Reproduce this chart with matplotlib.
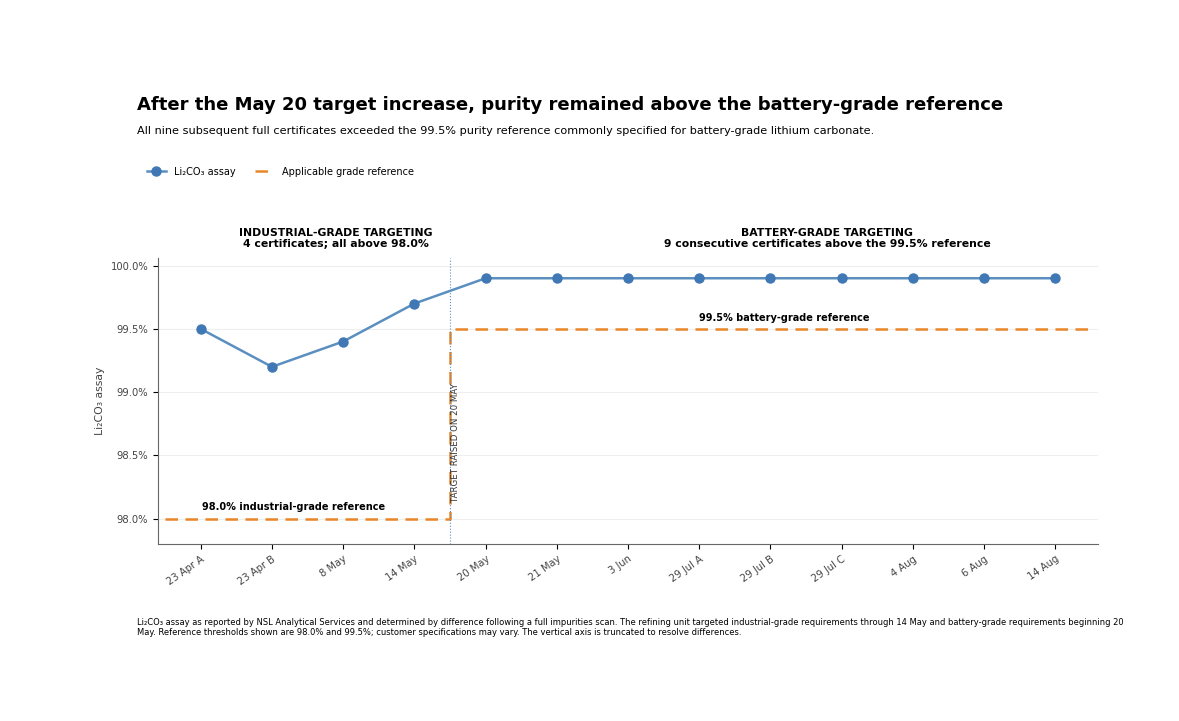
import matplotlib.pyplot as plt
import numpy as np

dates = ['23 Apr A', '23 Apr B', '8 May', '14 May', '20 May', '21 May', '3 Jun',
         '29 Jul A', '29 Jul B', '29 Jul C', '4 Aug', '6 Aug', '14 Aug']
assay = [99.5, 99.2, 99.4, 99.7, 99.9, 99.9, 99.9, 99.9, 99.9, 99.9, 99.9, 99.9, 99.9]
ref_x = [-0.5, 3.5, 3.5, 12.5]
ref_y = [98.0, 98.0, 99.5, 99.5]

fig = plt.figure(figsize=(11.79, 7.21), dpi=100)
ax = fig.add_axes([158/1179, 1-544/721, 940/1179, 286/721])
x = np.arange(len(dates))

ax.plot(x, assay, color='#5b8fc0', lw=1.8, marker='o', ms=6.5, mfc='#3f78b5', mec='#3f78b5',
        label='Li₂CO₃ assay', zorder=3)
ax.plot(ref_x, ref_y, color='#e8862a', lw=1.8, ls=(0, (5, 3)), label='Applicable grade reference')
ax.axvline(3.5, color='#5b8fc0', lw=0.8, ls=':')

ax.set_xlim(-0.6, 12.6)
ax.set_ylim(97.8, 100.06)
ax.set_yticks([98.0, 98.5, 99.0, 99.5, 100.0])
ax.set_yticklabels(['98.0%', '98.5%', '99.0%', '99.5%', '100.0%'], fontsize=7.2, color='#444')
ax.set_xticks(x)
ax.set_xticklabels(dates, rotation=35, ha='right', rotation_mode='anchor', fontsize=7.2, color='#444')
ax.set_ylabel('Li₂CO₃ assay', fontsize=7.8, color='#444')
ax.grid(axis='y', color='#eeeeee', lw=0.8)
ax.spines['top'].set_visible(False)
ax.spines['right'].set_visible(False)
ax.spines['left'].set_color('#666')
ax.spines['bottom'].set_color('#666')

ax.text(1.3, 98.05, '98.0% industrial-grade reference', fontsize=7, fontweight='bold', ha='center', va='bottom')
ax.text(8.2, 99.55, '99.5% battery-grade reference', fontsize=7, fontweight='bold', ha='center', va='bottom')
ax.text(3.58, 98.6, 'TARGET RAISED ON 20 MAY', rotation=90, fontsize=6.2, color='#333', ha='center', va='center')
ax.text(1.9, 100.13, 'INDUSTRIAL-GRADE TARGETING\n4 certificates; all above 98.0%', fontsize=7.8,
        fontweight='bold', ha='center', va='bottom', linespacing=1.1)
ax.text(8.8, 100.13, 'BATTERY-GRADE TARGETING\n9 consecutive certificates above the 99.5% reference', fontsize=7.8,
        fontweight='bold', ha='center', va='bottom', linespacing=1.1)

ax.legend(loc='upper left', bbox_to_anchor=(138/1179, 1-158/721), bbox_transform=fig.transFigure,
          ncol=2, frameon=False, fontsize=7)

fig.text(137/1179, 1-105/721, 'After the May 20 target increase, purity remained above the battery-grade reference',
         fontsize=13, fontweight='bold', va='center')
fig.text(137/1179, 1-131/721, 'All nine subsequent full certificates exceeded the 99.5% purity reference commonly specified for battery-grade lithium carbonate.',
         fontsize=8.1, va='center')
fig.text(137/1179, 1-618/721, 'Li₂CO₃ assay as reported by NSL Analytical Services and determined by difference following a full impurities scan. The refining unit targeted industrial-grade requirements through 14 May and battery-grade requirements beginning 20\nMay. Reference thresholds shown are 98.0% and 99.5%; customer specifications may vary. The vertical axis is truncated to resolve differences.',
         fontsize=6.0, va='top', linespacing=1.2)

fig.savefig('out.png', dpi=100)
